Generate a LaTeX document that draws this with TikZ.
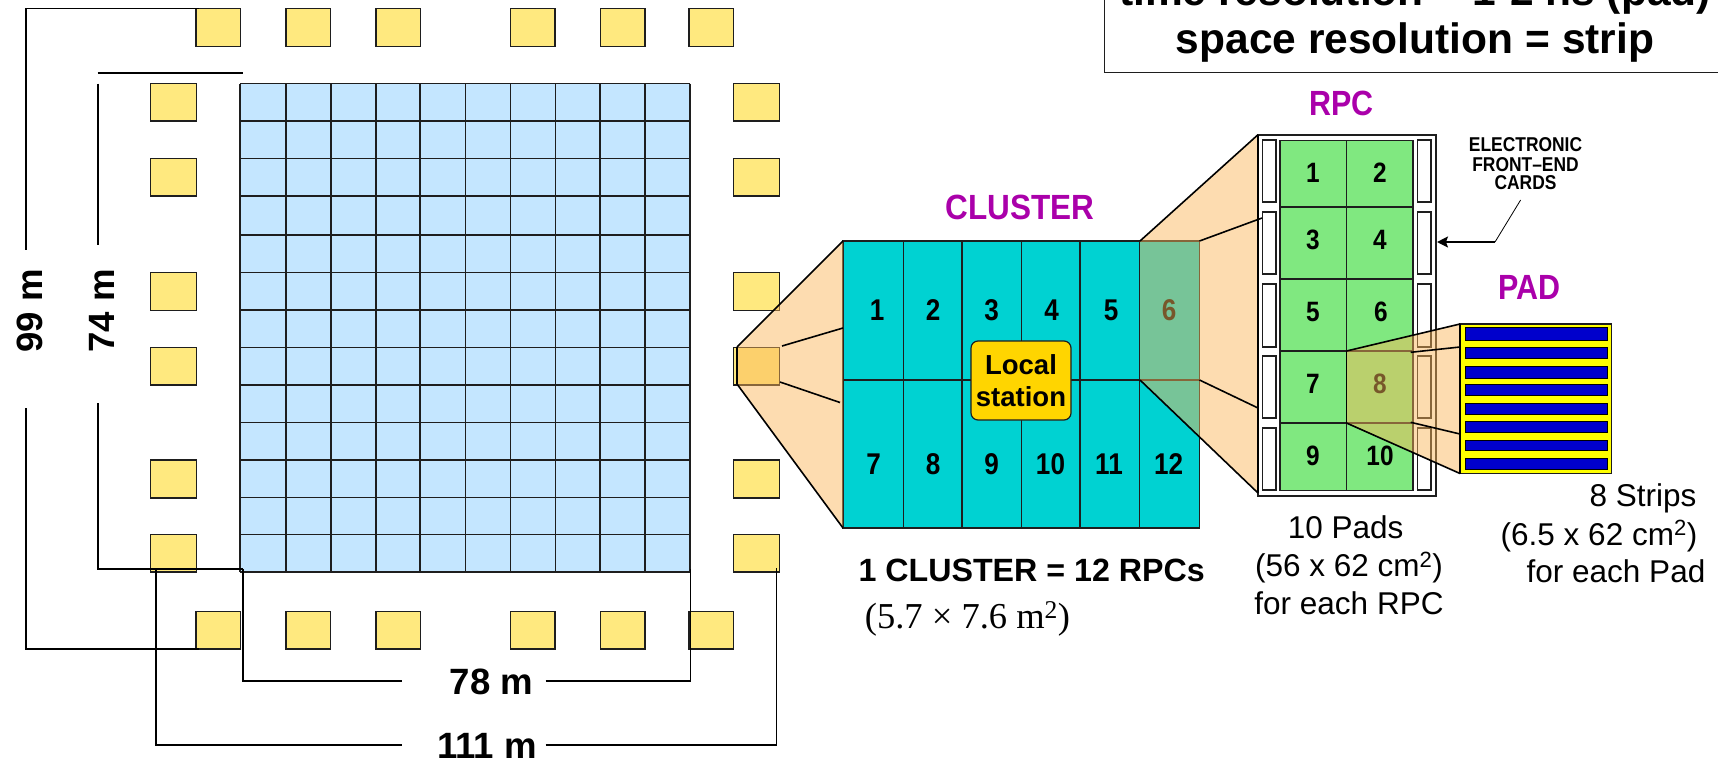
\documentclass[tikz,border=0pt]{standalone}
\usepackage{fontspec}
\usepackage{graphicx}
\setmainfont{Liberation Sans}
\newfontfamily\tmsfont{Liberation Serif}
\usetikzlibrary{arrows.meta}
\definecolor{gridblue}{RGB}{196,230,255}
\definecolor{sqyellow}{RGB}{255,233,127}
\definecolor{clcyan}{RGB}{0,210,210}
\definecolor{rpcgreen}{RGB}{128,232,128}
\definecolor{locgold}{RGB}{255,213,0}
\definecolor{headmag}{RGB}{170,0,170}
\definecolor{padyel}{RGB}{255,255,0}
\definecolor{stripblue}{RGB}{0,0,204}
\definecolor{zoomorange}{RGB}{250,182,89}
\definecolor{darkline}{RGB}{30,30,30}
\newcommand{\fsz}[1]{\fontsize{#1}{#1}\selectfont}
\newcommand{\nrw}[1]{\scalebox{0.87}[1]{#1}}
\tikzset{
  cellline/.style={draw=darkline,line width=1.5pt},
  yelbox/.style={draw=darkline,line width=1.5pt,fill=sqyellow,inner sep=0pt,outer sep=0pt,minimum height=37.8pt},
  hbox/.style={yelbox,minimum width=44.5pt},
  vbox/.style={yelbox,minimum width=46pt},
  dimline/.style={draw=black,line width=1.5pt,line join=miter},
  zoomfill/.style={fill=zoomorange,fill opacity=0.48,draw=none},
  zoomedge/.style={draw=black,line width=1.6pt},
  title/.style={anchor=base,inner sep=0pt,font=\fsz{42.5}\bfseries},
  head/.style={anchor=base,inner sep=0pt,text=headmag,font=\fsz{35}\bfseries},
  dimlabel/.style={anchor=base,inner sep=0pt,font=\fsz{36.6}\bfseries},
  capt/.style={anchor=base,inner sep=0pt,font=\fsz{31.5}},
  clnum/.style={inner sep=0pt,font=\fsz{30}\bfseries},
  rpcnum/.style={inner sep=0pt,font=\fsz{28}\bfseries},
  elec/.style={anchor=base,inner sep=0pt,font=\fsz{20}\bfseries},
  cardbox/.style={draw=darkline,line width=1.2pt,fill=white},
  strip/.style={draw=black,line width=1pt,fill=stripblue},
}
\begin{document}
\begin{tikzpicture}[x=1pt,y=-1pt]
\useasboundingbox (0,0) rectangle (1718,761);
% title box
\coordinate (tbA) at (1104.4,-6);
\coordinate (tbB) at (1104.4,72.6);
\coordinate (tbC) at (1724,72.6);
\draw[draw=darkline,line width=1pt] (tbA) -- (tbB) -- (tbC);
\node[title] (t1) at (1415,5) {time resolution \char"007E\ 1-2 ns (pad)};
\node[title] (t2) at (1415,53) {space resolution = strip};
% blue grid
\fill[gridblue] (240,83.5) rectangle (690,572);
\foreach \x in {240,286,331,376,420,465.5,510.5,555.5,600,645,690}
  \draw[cellline] (\x,83.5) -- (\x,572);
\foreach \y in {83.5,121,158.5,196,235,272.5,310,347.5,385,422.5,460,497.5,534.5,572}
  \draw[cellline] (240,\y) -- (690,\y);
% yellow squares
\foreach \x [count=\i] in {218.2,308.2,398.2,532.5,622.5,711.2} {
  \node[hbox] (top\i) at (\x,27.5) {};
  \node[hbox] (bot\i) at (\x,630.3) {};
}
\foreach \y [count=\i] in {102.3,177.3,291.5,366.3,479,553.3} {
  \node[vbox] (lft\i) at (173.5,\y) {};
  \node[vbox] (rgt\i) at (756.3,\y) {};
}
% dimension lines
\coordinate (a1) at (199,8.7);
\coordinate (a2) at (26,8.7);
\coordinate (a3) at (26,250);
\coordinate (a4) at (26,408);
\coordinate (a5) at (26,649);
\coordinate (a6) at (199,649);
\draw[dimline] (a1) -- (a2) -- (a3);
\draw[dimline] (a4) -- (a5) -- (a6);
\coordinate (b1) at (97.5,73);
\coordinate (b2) at (243,73);
\coordinate (b3) at (98,83.5);
\coordinate (b4) at (98,245);
\coordinate (b5) at (98,403);
\coordinate (b6) at (98,569);
\coordinate (b7) at (243,569);
\draw[dimline] (b1) -- (b2);
\draw[dimline] (b3) -- (b4);
\draw[dimline] (b5) -- (b6) -- (b7);
\coordinate (c1) at (243,569);
\coordinate (c2) at (243,681);
\coordinate (c3) at (402,681);
\coordinate (c4) at (545.7,681);
\coordinate (c5) at (690.5,681);
\coordinate (c6) at (690.5,569);
\draw[dimline] (c1) -- (c2) -- (c3);
\draw[dimline] (c4) -- (c5) -- (c6);
\coordinate (d1) at (156,569);
\coordinate (d2) at (156,745);
\coordinate (d3) at (402,745);
\coordinate (d4) at (545.7,745);
\coordinate (d5) at (776.7,745);
\coordinate (d6) at (776.7,568);
\draw[dimline] (d1) -- (d2) -- (d3);
\draw[dimline] (d4) -- (d5) -- (d6);
\node[dimlabel,rotate=90] (l99) at (42.7,311) {99 m};
\node[dimlabel,rotate=90] (l74) at (114.3,311) {74 m};
\node[dimlabel] (l78) at (491.5,694) {78 m};
\node[dimlabel] (l111) at (487,758) {111 m};
% cluster
\fill[clcyan] (843,241) rectangle (1199.5,528);
\foreach \x in {903.7,962,1021.7,1080,1139.7}
  \draw[cellline] (\x,241) -- (\x,528);
\draw[cellline] (843,380) -- (1199.5,380);
\draw[cellline] (843,241) rectangle (1199.5,528);
\node[clnum] (n1) at (877,310) {\nrw{1}};
\node[clnum] (n2) at (933,310) {\nrw{2}};
\node[clnum] (n3) at (991.5,310) {\nrw{3}};
\node[clnum] (n4) at (1051.5,310) {\nrw{4}};
\node[clnum] (n5) at (1111,310) {\nrw{5}};
\node[clnum] (n6) at (1169,310) {\nrw{6}};
\node[clnum] (n7) at (873.7,464) {\nrw{7}};
\node[clnum] (n8) at (933,464) {\nrw{8}};
\node[clnum] (n9) at (991.5,464) {\nrw{9}};
\node[clnum] (n10) at (1050.5,464) {\nrw{10}};
\node[clnum] (n11) at (1109,464) {\nrw{11}};
\node[clnum] (n12) at (1168.5,464) {\nrw{12}};
\node[draw=darkline,line width=1.2pt,fill=locgold,rounded corners=7pt,minimum width=100pt,minimum height=79pt,inner sep=0pt,align=center,font=\fontsize{27.5}{31.5}\selectfont\bfseries] (local) at (1021,380.5) {Local\\station};
% zoom from yellow square to cluster
\coordinate (s1) at (737,347);
\coordinate (s2) at (843,241);
\coordinate (s3) at (843,528);
\coordinate (s4) at (737,384);
\path[zoomfill] (s1) -- (s2) -- (s3) -- (s4) -- cycle;
\draw[zoomedge] (s1) -- (s2);
\draw[zoomedge] (s4) -- (s3);
\draw[zoomedge] (s1) -- (s4);
\coordinate (s5) at (782,346);
\coordinate (s6) at (843,328);
\coordinate (s7) at (780,382);
\coordinate (s8) at (840,402.5);
\draw[zoomedge] (s5) -- (s6);
\draw[zoomedge] (s7) -- (s8);
% RPC
\draw[draw=darkline,line width=1.6pt,fill=white] (1258,134.7) rectangle (1436,496);
\fill[rpcgreen] (1280,140.5) rectangle (1413,490.7);
\foreach \y in {207,279,351,423}
  \draw[cellline] (1280,\y) -- (1413,\y);
\draw[cellline] (1346.5,140.5) -- (1346.5,490.7);
\draw[cellline] (1280,140.5) rectangle (1413,490.7);
\foreach \ya/\yb in {140/202,212/274,284/347,356/418,428/490} {
  \draw[cardbox] (1262.7,\ya) rectangle (1276,\yb);
  \draw[cardbox] (1417.5,\ya) rectangle (1431,\yb);
}
\node[rpcnum] (r1) at (1313,173) {\nrw{1}};
\node[rpcnum] (r2) at (1380,173) {\nrw{2}};
\node[rpcnum] (r3) at (1313,240) {\nrw{3}};
\node[rpcnum] (r4) at (1380,240) {\nrw{4}};
\node[rpcnum] (r5) at (1313,312) {\nrw{5}};
\node[rpcnum] (r6) at (1381,312) {\nrw{6}};
\node[rpcnum] (r7) at (1313,384) {\nrw{7}};
\node[rpcnum] (r8) at (1380,384) {\nrw{8}};
\node[rpcnum] (r9) at (1313,456) {\nrw{9}};
\node[rpcnum] (r10) at (1380,456) {\nrw{10}};
% zoom cluster to RPC
\coordinate (u1) at (1140,241);
\coordinate (u2) at (1258,134.7);
\coordinate (u3) at (1258,493);
\coordinate (u4) at (1140,380);
\path[zoomfill] (u1) -- (u2) -- (u3) -- (u4) -- cycle;
\draw[zoomedge] (u1) -- (u2);
\draw[zoomedge] (u4) -- (u3);
\draw[zoomedge] (u2) -- (u3);
\coordinate (u5) at (1199.5,241);
\coordinate (u6) at (1262,218);
\coordinate (u7) at (1199.5,380);
\coordinate (u8) at (1258,408);
\draw[zoomedge] (u5) -- (u6);
\draw[zoomedge] (u7) -- (u8);
% pad
\draw[draw=darkline,line width=1.3pt,fill=padyel] (1460,324) rectangle (1611.7,473.7);
\foreach \ya/\yb in {327.3/340,347.3/358.3,366/378,384.7/395.3,403.3/414,421.7/432.3,440/450.7,458.3/469}
  \draw[strip] (1465,\ya) rectangle (1607,\yb);
% zoom RPC to pad
\coordinate (v1) at (1346.5,351);
\coordinate (v2) at (1460,324);
\coordinate (v3) at (1460,473.5);
\coordinate (v4) at (1346.5,423);
\path[zoomfill] (v1) -- (v2) -- (v3) -- (v4) -- cycle;
\draw[zoomedge] (v1) -- (v2);
\draw[zoomedge] (v4) -- (v3);
\draw[zoomedge] (v1) -- (v4);
\draw[zoomedge] (v2) -- (v3);
\coordinate (v5) at (1410.7,352.3);
\coordinate (v6) at (1460,347);
\coordinate (v7) at (1410.7,422.3);
\coordinate (v8) at (1460,434);
\draw[zoomedge] (v5) -- (v6);
\draw[zoomedge] (v7) -- (v8);
% headings
\node[head] (hCl) at (1020,219.5) {\scalebox{0.9}[1]{CLUSTER}};
\node[head] (hRp) at (1341.6,115) {\scalebox{0.87}[1]{RPC}};
\node[head] (hPa) at (1529.5,299) {\scalebox{0.87}[1]{PAD}};
% front-end cards
\node[elec] (e1) at (1525.5,151.7) {\nrw{ELECTRONIC}};
\node[elec] (e2) at (1525.5,171) {\nrw{FRONT--END}};
\node[elec] (e3) at (1525.5,189) {\nrw{CARDS}};
\coordinate (f1) at (1520.6,200);
\coordinate (f2) at (1495,242);
\coordinate (f3) at (1437,242);
\draw[draw=black,line width=0.8pt] (f1) -- (f2);
\draw[draw=black,line width=1.4pt,-{Stealth[length=11pt,width=11pt,inset=2pt]}] (f2) -- (f3);
% captions
\node[anchor=base,inner sep=0pt,font=\fsz{32.2}\bfseries] (cap1) at (1031.7,581.5) {1 CLUSTER = 12 RPCs};
\node[anchor=base,inner sep=0pt,font=\fsz{36.5}\tmsfont] (cap2) at (967.5,628) {(5.7 × 7.6 m\textsuperscript{2})};
\node[capt] (p1) at (1345.7,538) {10 Pads};
\node[capt] (p2) at (1349,576.7) {(56 x 62 cm\textsuperscript{2})};
\node[capt] (p3) at (1349,614) {for each RPC};
\node[capt] (q1) at (1643,506.7) {8 Strips};
\node[capt] (q2) at (1599,545) {(6.5 x 62 cm\textsuperscript{2})};
\node[capt] (q3) at (1616,582.7) {for each Pad};
\end{tikzpicture}
\end{document}
